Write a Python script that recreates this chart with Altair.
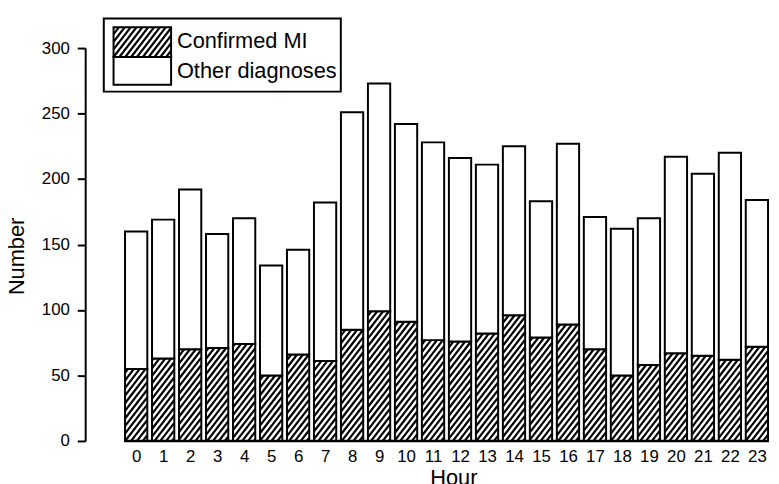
import altair as alt
import numpy as np
import pandas as pd

# ---------------- data ----------------
hours = list(range(24))
confirmed_mi = [55, 63, 70, 71, 74, 50, 66, 61, 85, 99, 91, 77,
                76, 82, 96, 79, 89, 70, 50, 58, 67, 65, 62, 72]
other_diagnoses = [105, 106, 122, 87, 96, 84, 80, 121, 166, 174, 151, 151,
                   140, 129, 129, 104, 138, 101, 112, 112, 150, 139, 158, 112]
series_names = ["Confirmed MI", "Other diagnoses"]
y_tick_values = [0, 50, 100, 150, 200, 250, 300]
x_title = "Hour"
y_title = "Number"

# ---------------- layout constants ----------------
PAD_LEFT, PAD_TOP, PAD_RIGHT, PAD_BOTTOM = 78, 38, 0, 41
PLOT_W, PLOT_H = 693, 397
PAGE_MARGIN = 8
STEP_PX = 27.67          # pixels per hour
FIRST_CENTER_PX = 47.2   # gap from y axis to centre of first bar
BAR_PX = 22.5
Y_MAX = 300
FONT = "Liberation Sans"

x_lo = hours[0] - FIRST_CENTER_PX / STEP_PX
x_hi = x_lo + PLOT_W / STEP_PX
y_px = PLOT_H / Y_MAX
plot_left = PAGE_MARGIN + PAD_LEFT
plot_bottom = PAGE_MARGIN + PAD_TOP + PLOT_H


def px_to_x(px):
    return x_lo + (px - plot_left) / STEP_PX


def py_to_y(py):
    return (plot_bottom - py) / y_px


x_scale = alt.Scale(domain=[x_lo, x_hi], nice=False, zero=False)
y_scale = alt.Scale(domain=[0, Y_MAX], nice=False)

totals = [m + o for m, o in zip(confirmed_mi, other_diagnoses)]
n = len(hours)
bars_df = pd.DataFrame({
    "x": hours * 2,
    "y": [0] * n + confirmed_mi,
    "y2": confirmed_mi + totals,
    "series": [series_names[0]] * n + [series_names[1]] * n,
})

# ---------------- hatching ----------------
HATCH_SPACING = 6.0
HATCH_ANGLE = 52
tan_a = np.tan(np.radians(HATCH_ANGLE))


def hatch_segments(u0, u1, v0, v1):
    """diagonal '/' lines clipped to a pixel rectangle (v upward)."""
    out = []
    k = np.floor((u0 - (v1 - v0) / tan_a) / HATCH_SPACING) * HATCH_SPACING
    while k <= u1:
        va = max(0.0, tan_a * (u0 - k))
        vb = min(v1 - v0, tan_a * (u1 - k))
        if vb - va > 0.5:
            out.append((k + va / tan_a, v0 + va, k + vb / tan_a, v0 + vb))
        k += HATCH_SPACING
    return out


hatch_rows = []
for h, mi in zip(hours, confirmed_mi):
    cx = (h - x_lo) * STEP_PX
    for ua, va, ub, vb in hatch_segments(cx - BAR_PX / 2, cx + BAR_PX / 2, 0.0, mi * y_px):
        hatch_rows.append({"x": x_lo + ua / STEP_PX, "x2": x_lo + ub / STEP_PX,
                           "y": va / y_px, "y2": vb / y_px})

half_bar = (BAR_PX / 2 + 1) / STEP_PX
base_df = pd.DataFrame({"x": [hours[0] - half_bar], "x2": [hours[-1] + half_bar], "y": [0]})

# ---------------- legend (page-pixel layout converted to the chart scales) ----------------
LEG_BOX = (100, 16, 343, 90)        # left, top, right, bottom
SYM_L, SYM_R = 110, 169
SYM_ROWS = [(25, 55), (55, 83)]
LABEL_X = 175
LABEL_Y = [39, 69]

box_df = pd.DataFrame({"x": [px_to_x(LEG_BOX[0])], "x2": [px_to_x(LEG_BOX[2])],
                       "y": [py_to_y(LEG_BOX[3])], "y2": [py_to_y(LEG_BOX[1])]})
sym_df = pd.DataFrame({
    "x": [px_to_x(SYM_L)] * 2, "x2": [px_to_x(SYM_R)] * 2,
    "y": [py_to_y(bot) for top, bot in SYM_ROWS],
    "y2": [py_to_y(top) for top, bot in SYM_ROWS],
    "series": series_names,
})
top0, bot0 = SYM_ROWS[0]
for ua, va, ub, vb in hatch_segments(SYM_L - plot_left, SYM_R - plot_left,
                                     plot_bottom - bot0, plot_bottom - top0):
    hatch_rows.append({"x": x_lo + ua / STEP_PX, "x2": x_lo + ub / STEP_PX,
                       "y": va / y_px, "y2": vb / y_px})
hatch_df = pd.DataFrame(hatch_rows)

label_df = pd.DataFrame({"x": [px_to_x(LABEL_X)] * 2, "y": [py_to_y(v) for v in LABEL_Y],
                         "label": series_names})

# ---------------- axes ----------------
x_axis = alt.Axis(values=hours, format="d", domain=False, ticks=False, tickSize=0,
                  labelFont=FONT, labelFontSize=17, labelColor="black", labelPadding=8,
                  labelFlush=False, labelOverlap=False, grid=False,
                  title=x_title, titleFont=FONT, titleFontSize=22, titleFontWeight="normal",
                  titleColor="black", titleX=372, titleY=27, titleBaseline="top",
                  titleAlign="center")
y_axis = alt.Axis(values=y_tick_values, format="d", domain=True, domainColor="black",
                  domainWidth=2, ticks=True, tickColor="black", tickWidth=2, tickSize=8,
                  labelFont=FONT, labelFontSize=17, labelColor="black", labelPadding=8,
                  grid=False, title=y_title, titleFont=FONT, titleFontSize=22,
                  titleFontWeight="normal", titleColor="black", titleX=-62, titleY=210,
                  titleAngle=270, titleBaseline="alphabetic", titleAlign="center")

X = alt.X("x:Q", scale=x_scale, axis=x_axis, title=x_title)
Y = alt.Y("y:Q", scale=y_scale, axis=y_axis, title=y_title)

bars = alt.Chart(bars_df).mark_bar(size=BAR_PX, fill="white", stroke="black", strokeWidth=2).encode(
    x=X, y=Y, y2="y2:Q")

hatch = alt.Chart(hatch_df).mark_rule(color="black", strokeWidth=2.2, strokeCap="butt").encode(
    x=X, x2="x2:Q", y=Y, y2="y2:Q")

baseline = alt.Chart(base_df).mark_rule(color="black", strokeWidth=2.5).encode(
    x=X, x2="x2:Q", y=Y)

legend_box = alt.Chart(box_df).mark_rect(fill="white", stroke="black", strokeWidth=2).encode(
    x=X, x2="x2:Q", y=Y, y2="y2:Q")

legend_syms = alt.Chart(sym_df).mark_rect(fill="white", stroke="black", strokeWidth=2).encode(
    x=X, x2="x2:Q", y=Y, y2="y2:Q")

legend_labels = alt.Chart(label_df).mark_text(
    align="left", baseline="middle", font=FONT, fontSize=22, color="black"
).encode(x=X, y=Y, text="label:N")

chart = alt.layer(legend_box, bars, legend_syms, hatch, baseline, legend_labels).properties(
    width=PLOT_W, height=PLOT_H,
    autosize=alt.AutoSizeParams(type="none"),
    padding={"left": PAD_LEFT, "top": PAD_TOP, "right": PAD_RIGHT, "bottom": PAD_BOTTOM},
    background="white",
).configure_view(strokeWidth=0)

chart.save("out.html", embed_options={"renderer": "svg", "actions": False})
